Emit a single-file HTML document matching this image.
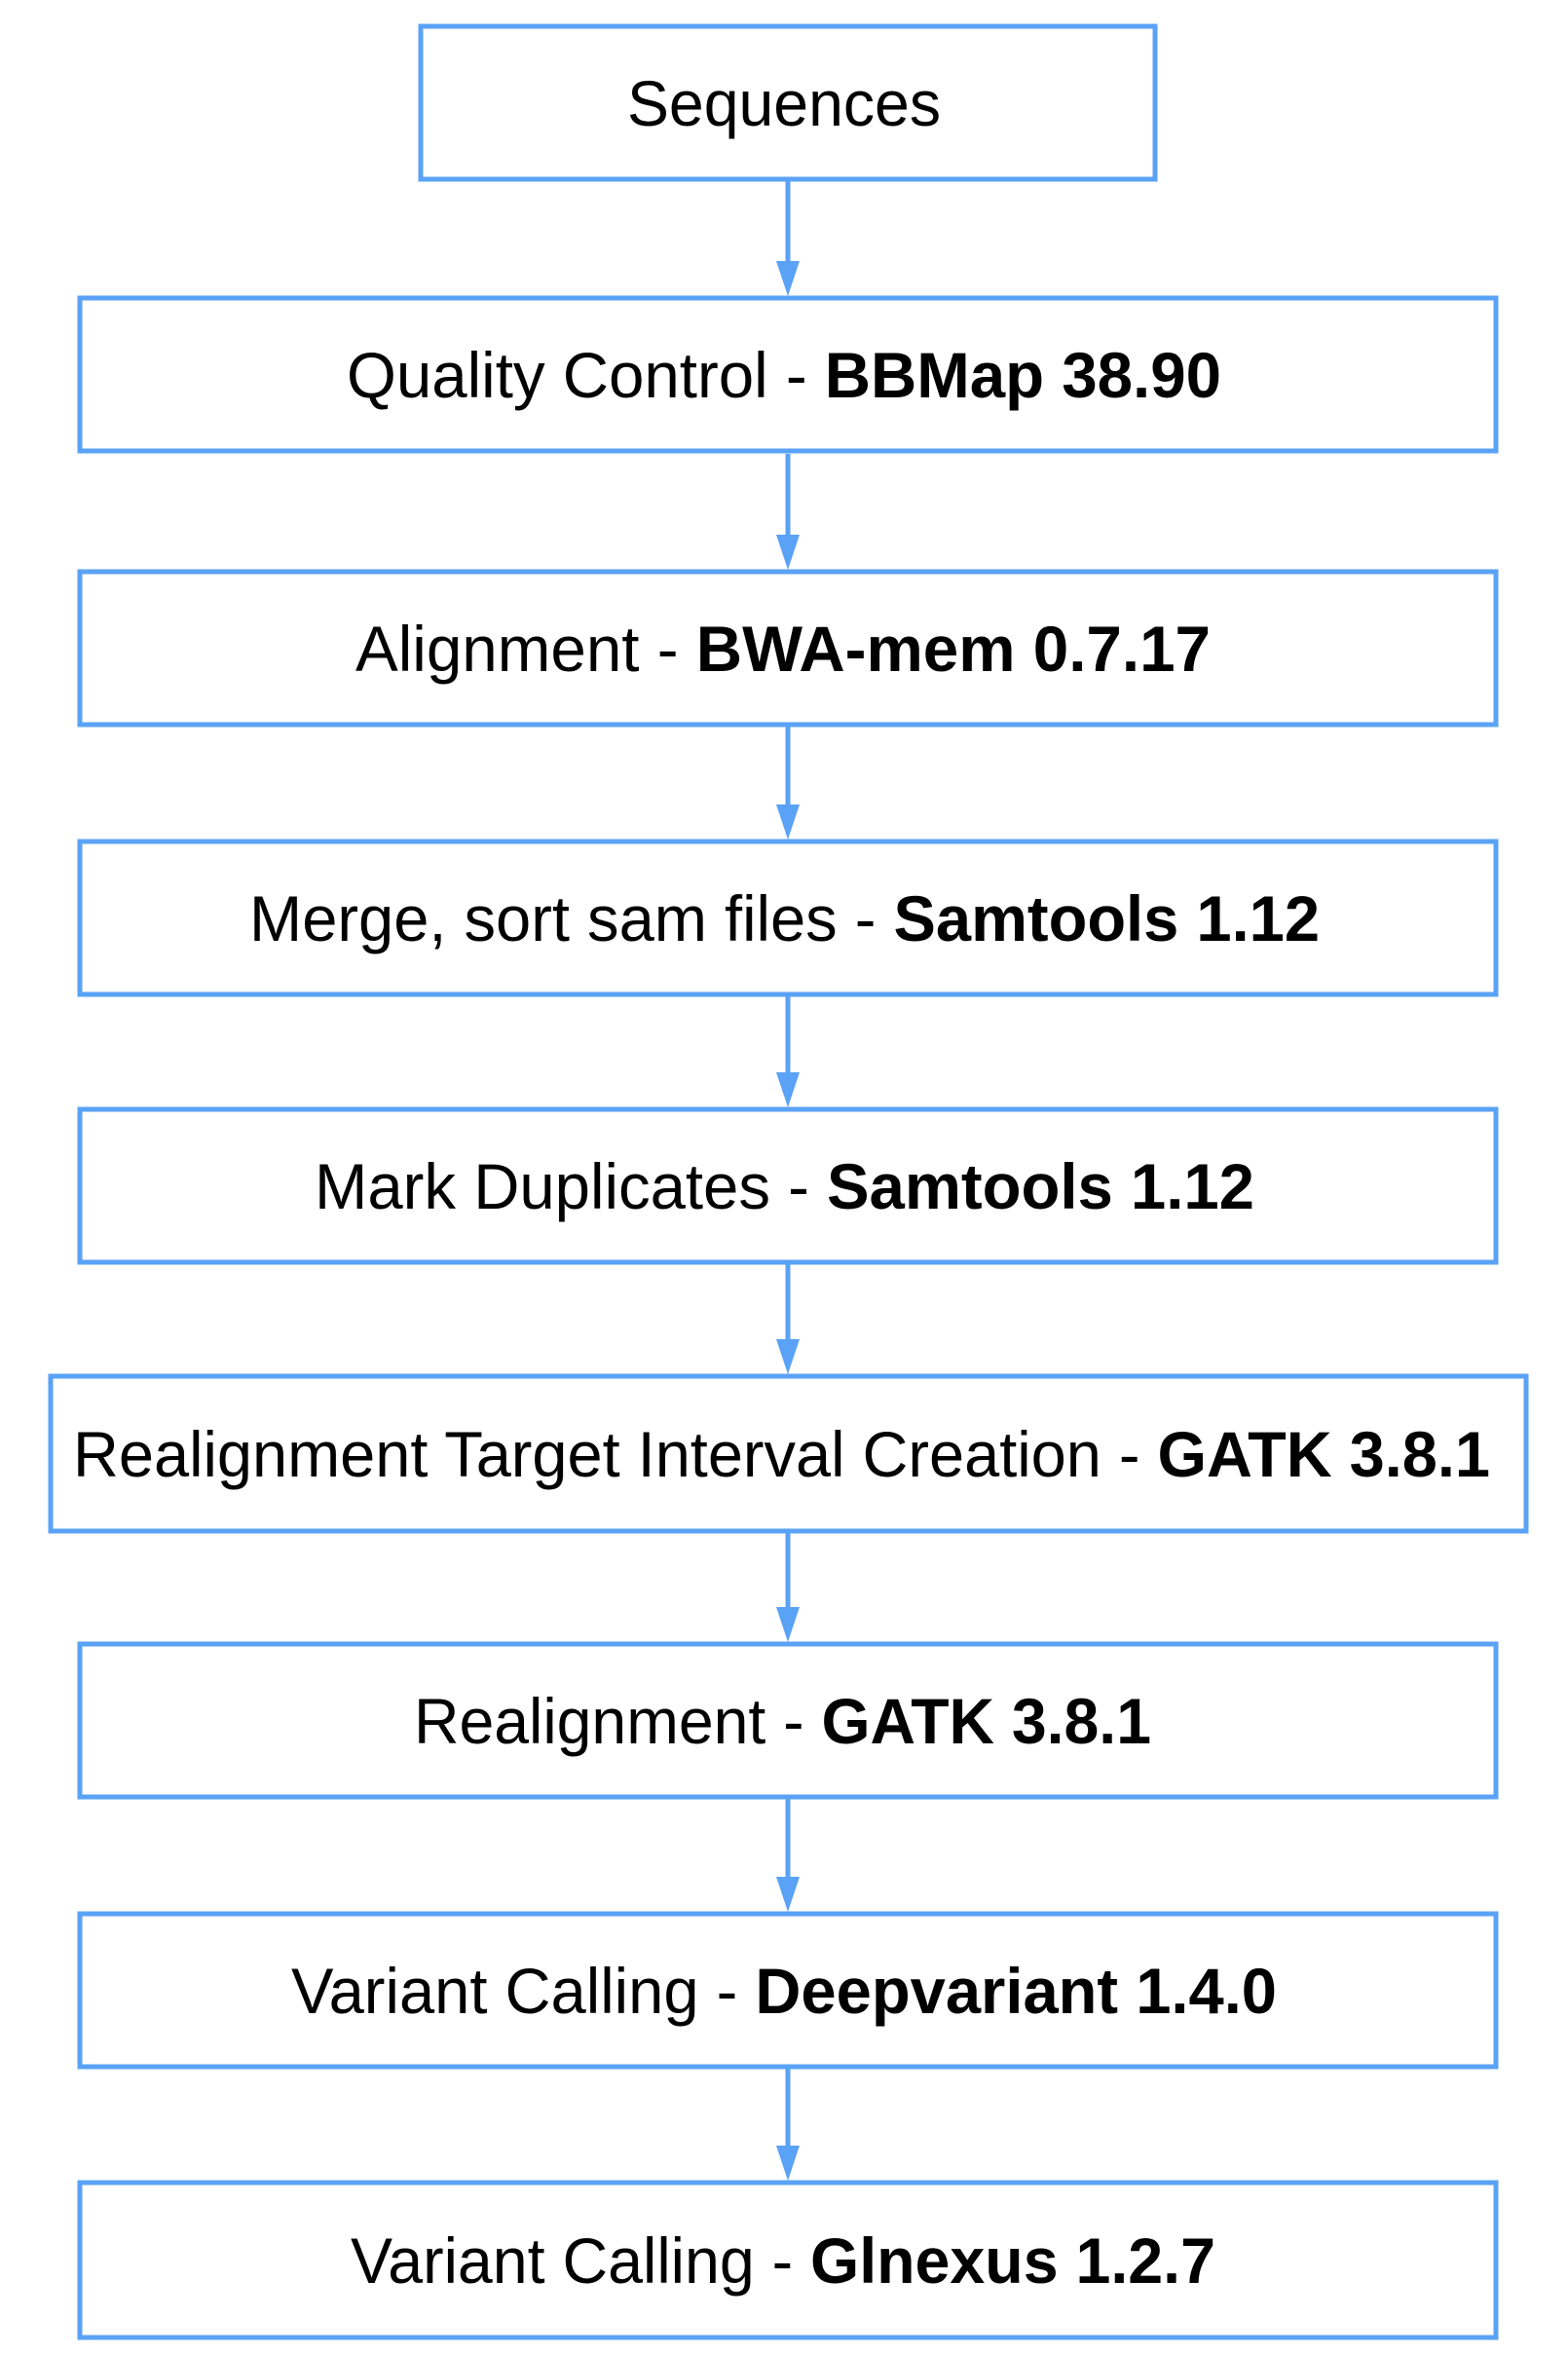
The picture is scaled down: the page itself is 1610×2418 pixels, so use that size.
<!DOCTYPE html>
<html><head><meta charset="utf-8"><style>html,body{margin:0;padding:0;background:#fff}svg{display:block}</style></head>
<body>
<svg width="1610" height="2418" viewBox="0 0 1610 2418" xmlns="http://www.w3.org/2000/svg" font-family="'Liberation Sans', Arial, sans-serif" font-size="66" fill="#000">
<g fill="none" stroke="#5AA2F6" stroke-width="5">
<rect x="432" y="27" width="754" height="157"/>
<rect x="82" y="306" width="1454" height="157"/>
<rect x="82" y="587" width="1454" height="157"/>
<rect x="82" y="864" width="1454" height="157"/>
<rect x="82" y="1139" width="1454" height="157"/>
<rect x="52" y="1413" width="1515" height="159"/>
<rect x="82" y="1688" width="1454" height="157"/>
<rect x="82" y="1965" width="1454" height="157"/>
<rect x="82" y="2241" width="1454" height="159"/>
<g stroke-width="5">
<line x1="809" y1="186" x2="809" y2="272"/>
<line x1="809" y1="466" x2="809" y2="552"/>
<line x1="809" y1="746" x2="809" y2="830"/>
<line x1="809" y1="1023" x2="809" y2="1105"/>
<line x1="809" y1="1298" x2="809" y2="1379"/>
<line x1="809" y1="1572" x2="809" y2="1654"/>
<line x1="809" y1="1847" x2="809" y2="1931"/>
<line x1="809" y1="2124" x2="809" y2="2207"/>
</g>
</g>
<g fill="#5AA2F6">
<polygon points="797,268 821,268 809,304"/>
<polygon points="797,549 821,549 809,585"/>
<polygon points="797,826 821,826 809,862"/>
<polygon points="797,1101 821,1101 809,1137"/>
<polygon points="797,1375 821,1375 809,1411"/>
<polygon points="797,1650 821,1650 809,1686"/>
<polygon points="797,1927 821,1927 809,1963"/>
<polygon points="797,2203 821,2203 809,2239"/>
</g>
<g>
<text x="644" y="129" textLength="322" lengthAdjust="spacingAndGlyphs">Sequences</text>
<text x="356" y="408" textLength="898" lengthAdjust="spacingAndGlyphs">Quality Control - <tspan font-weight="bold">BBMap 38.90</tspan></text>
<text x="365" y="689" textLength="878" lengthAdjust="spacingAndGlyphs">Alignment - <tspan font-weight="bold">BWA-mem 0.7.17</tspan></text>
<text x="256" y="966" textLength="1099" lengthAdjust="spacingAndGlyphs">Merge, sort sam files - <tspan font-weight="bold">Samtools 1.12</tspan></text>
<text x="323" y="1241" textLength="965" lengthAdjust="spacingAndGlyphs">Mark Duplicates - <tspan font-weight="bold">Samtools 1.12</tspan></text>
<text x="75" y="1516" textLength="1455" lengthAdjust="spacingAndGlyphs">Realignment Target Interval Creation - <tspan font-weight="bold">GATK 3.8.1</tspan></text>
<text x="425" y="1790" textLength="757" lengthAdjust="spacingAndGlyphs">Realignment - <tspan font-weight="bold">GATK 3.8.1</tspan></text>
<text x="299" y="2067" textLength="1012" lengthAdjust="spacingAndGlyphs">Variant Calling - <tspan font-weight="bold">Deepvariant 1.4.0</tspan></text>
<text x="360" y="2344" textLength="888" lengthAdjust="spacingAndGlyphs">Variant Calling - <tspan font-weight="bold">Glnexus 1.2.7</tspan></text>
</g>
</svg>
</body></html>
